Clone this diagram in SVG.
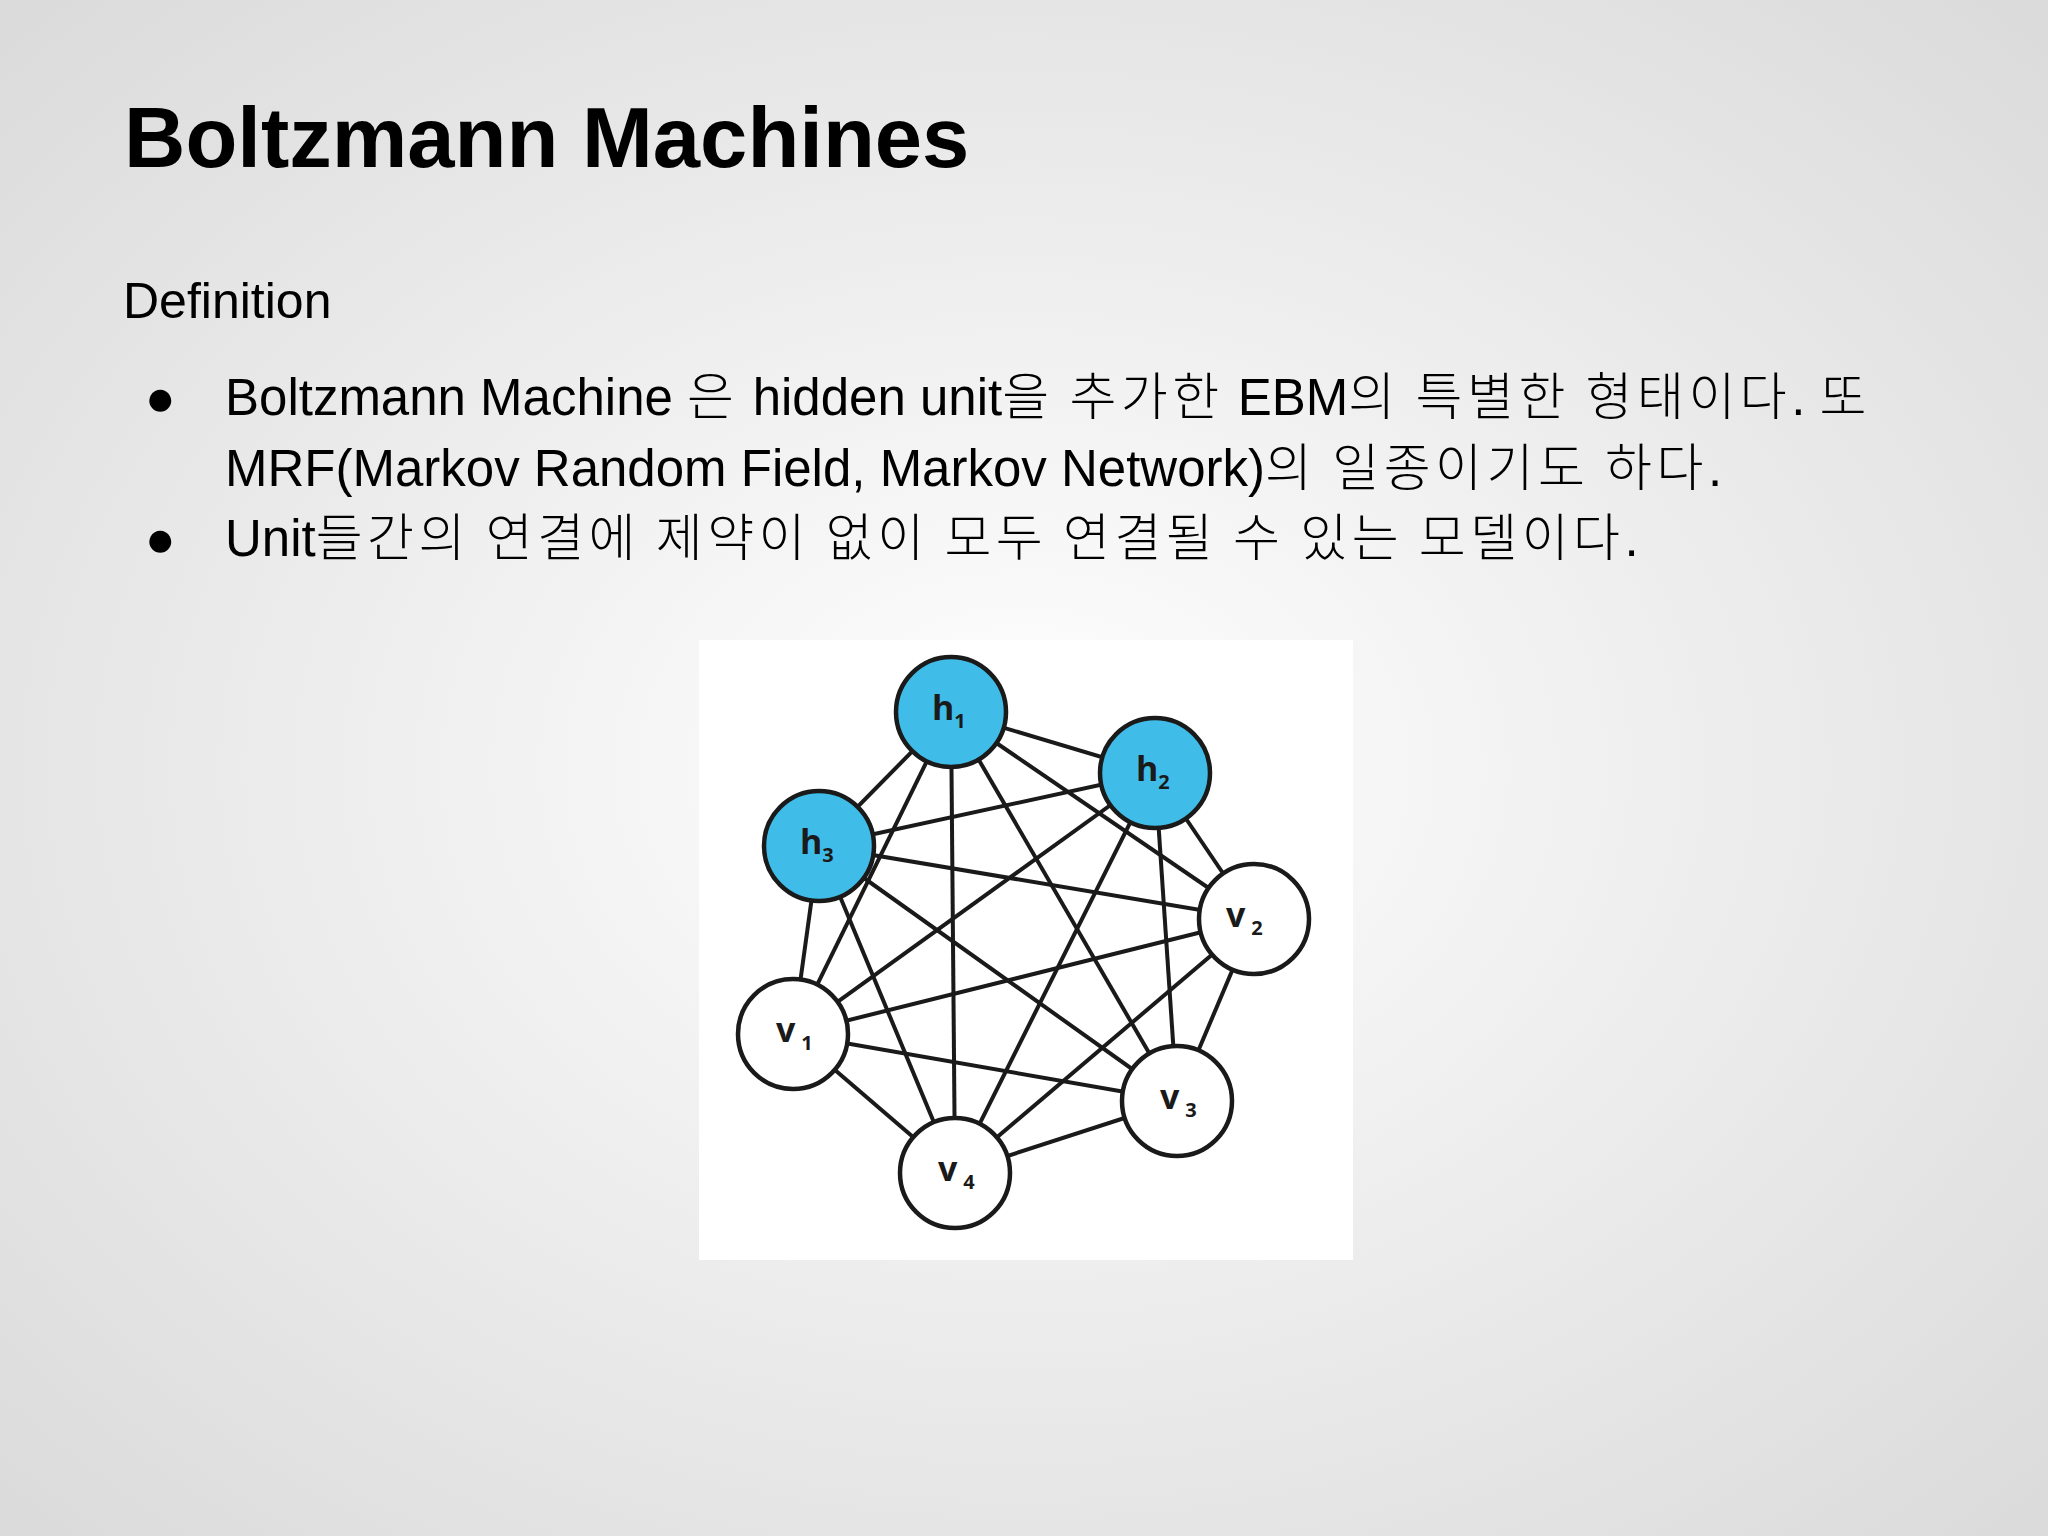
<svg xmlns="http://www.w3.org/2000/svg" width="2048" height="1536" viewBox="0 0 2048 1536">
<defs>
<radialGradient id="bg" cx="50%" cy="50%" r="75%">
<stop offset="0" stop-color="#ffffff"/><stop offset="1" stop-color="#d8d8d8"/>
</radialGradient>
<style>
.t{font-family:"Liberation Sans","Noto Sans CJK KR",sans-serif;fill:#000}
.b{font-size:51px}
.k{font-family:"Noto Sans CJK KR",sans-serif;font-weight:300;letter-spacing:4.5px}
.e line{stroke:#1a1a1a;stroke-width:4}
.n circle{stroke:#1a1a1a;stroke-width:4.5}
.h{fill:#3fbde8}.v{fill:#fff}
.l{font-family:"Open Sans","Liberation Sans",sans-serif;font-weight:bold;font-size:34px;fill:#1a1a1a}
.s{font-size:20px}
</style>
</defs>
<rect width="2048" height="1536" fill="url(#bg)"/>
<text class="t" x="124" y="167" font-size="85" font-weight="bold">Boltzmann Machines</text>
<text class="t" x="123" y="318" font-size="50">Definition</text>
<text class="t b" x="145" y="415">●</text>
<text class="t b" x="225" y="415">Boltzmann Machine <tspan class="k">은</tspan> hidden unit<tspan class="k">을 추가한</tspan> EBM<tspan class="k">의 특별한 형태이다</tspan>. <tspan class="k">또</tspan></text>
<text class="t b" x="225" y="486">MRF(Markov Random Field, Markov Network)<tspan class="k">의 일종이기도 하다</tspan>.</text>
<text class="t b" x="145" y="556">●</text>
<text class="t b" x="225" y="556">Unit<tspan class="k">들간의 연결에 제약이 없이 모두 연결될 수 있는 모델이다</tspan>.</text>
<rect x="699" y="640" width="654" height="620" fill="#fff"/>
<g class="e" id="edges">
<line x1="951" y1="712" x2="1155" y2="773"/><line x1="951" y1="712" x2="819" y2="846"/><line x1="951" y1="712" x2="1254" y2="919"/><line x1="951" y1="712" x2="793" y2="1034"/><line x1="951" y1="712" x2="1177" y2="1101"/><line x1="951" y1="712" x2="955" y2="1173"/>
<line x1="1155" y1="773" x2="819" y2="846"/><line x1="1155" y1="773" x2="1254" y2="919"/><line x1="1155" y1="773" x2="793" y2="1034"/><line x1="1155" y1="773" x2="1177" y2="1101"/><line x1="1155" y1="773" x2="955" y2="1173"/>
<line x1="819" y1="846" x2="1254" y2="919"/><line x1="819" y1="846" x2="793" y2="1034"/><line x1="819" y1="846" x2="1177" y2="1101"/><line x1="819" y1="846" x2="955" y2="1173"/>
<line x1="1254" y1="919" x2="793" y2="1034"/><line x1="1254" y1="919" x2="1177" y2="1101"/><line x1="1254" y1="919" x2="955" y2="1173"/>
<line x1="793" y1="1034" x2="1177" y2="1101"/><line x1="793" y1="1034" x2="955" y2="1173"/>
<line x1="1177" y1="1101" x2="955" y2="1173"/>
</g>
<g class="n" id="h1"><circle class="h" cx="951" cy="712" r="55"/><text class="l" x="932" y="720">h<tspan class="s" dy="8">1</tspan></text></g>
<g class="n" id="h2"><circle class="h" cx="1155" cy="773" r="55"/><text class="l" x="1136" y="781">h<tspan class="s" dy="8">2</tspan></text></g>
<g class="n" id="h3"><circle class="h" cx="819" cy="846" r="55"/><text class="l" x="800" y="854">h<tspan class="s" dy="8">3</tspan></text></g>
<g class="n" id="v2"><circle class="v" cx="1254" cy="919" r="55"/><text class="l" x="1226" y="927">v<tspan class="s" dx="6" dy="8">2</tspan></text></g>
<g class="n" id="v1"><circle class="v" cx="793" cy="1034" r="55"/><text class="l" x="776" y="1042">v<tspan class="s" dx="6" dy="8">1</tspan></text></g>
<g class="n" id="v3"><circle class="v" cx="1177" cy="1101" r="55"/><text class="l" x="1160" y="1109">v<tspan class="s" dx="6" dy="8">3</tspan></text></g>
<g class="n" id="v4"><circle class="v" cx="955" cy="1173" r="55"/><text class="l" x="938" y="1181">v<tspan class="s" dx="6" dy="8">4</tspan></text></g>
</svg>
